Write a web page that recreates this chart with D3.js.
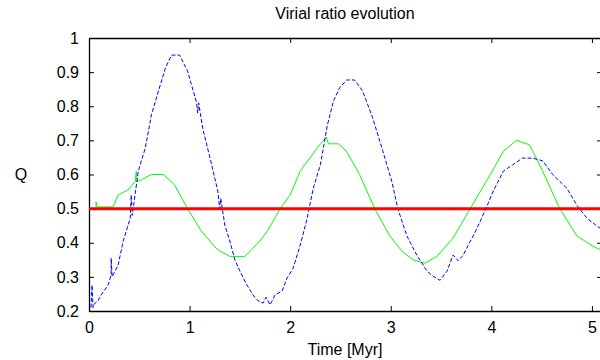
<!DOCTYPE html>
<html>
<head>
<meta charset="utf-8">
<script src="https://cdn.jsdelivr.net/npm/d3@7"></script>
<style>
  body { margin: 0; background: #fff; }
  text { font-family: "Liberation Sans", Arial, sans-serif; }
</style>
</head>
<body>
<div id="chart"></div>
<script>
// virial ratio Q over time
const greenTime = [0.07, 0.07, 0.08, 0.11, 0.24, 0.29, 0.39, 0.46, 0.47, 0.48, 0.52, 0.62, 0.74, 0.85, 0.98, 1.11, 1.26, 1.30, 1.40, 1.55, 1.70, 1.78, 1.90, 2.00, 2.10, 2.27, 2.36, 2.38, 2.48, 2.56, 2.69, 2.84, 2.99, 3.11, 3.22, 3.34, 3.46, 3.62, 3.79, 3.99, 4.12, 4.25, 4.38, 4.51, 4.68, 4.85, 5.01, 5.08]
const greenQ = [0.505, 0.52, 0.505, 0.505, 0.505, 0.54, 0.555, 0.58, 0.61, 0.58, 0.584, 0.60, 0.60, 0.57, 0.50, 0.437, 0.385, 0.376, 0.36, 0.36, 0.405, 0.437, 0.50, 0.54, 0.61, 0.678, 0.71, 0.69, 0.69, 0.668, 0.60, 0.50, 0.42, 0.376, 0.35, 0.34, 0.36, 0.414, 0.50, 0.60, 0.668, 0.70, 0.687, 0.61, 0.50, 0.42, 0.39, 0.38]

const blueTime = [0.02, 0.03, 0.04, 0.05, 0.09, 0.12, 0.19, 0.22, 0.22, 0.23, 0.29, 0.34, 0.41, 0.42, 0.43, 0.49, 0.56, 0.62, 0.66, 0.76, 0.82, 0.90, 0.98, 1.07, 1.08, 1.09, 1.13, 1.21, 1.28, 1.30, 1.31, 1.35, 1.40, 1.45, 1.50, 1.57, 1.63, 1.68, 1.73, 1.76, 1.80, 1.85, 1.92, 1.97, 2.03, 2.10, 2.17, 2.23, 2.30, 2.37, 2.43, 2.49, 2.56, 2.64, 2.72, 2.82, 2.92, 3.01, 3.07, 3.16, 3.26, 3.36, 3.42, 3.49, 3.56, 3.62, 3.67, 3.72, 3.77, 3.82, 3.89, 3.96, 4.02, 4.12, 4.21, 4.31, 4.41, 4.51, 4.61, 4.75, 4.85, 4.95, 5.05, 5.08]
const blueQ = [0.21, 0.276, 0.21, 0.22, 0.23, 0.247, 0.276, 0.305, 0.355, 0.30, 0.335, 0.405, 0.472, 0.54, 0.48, 0.61, 0.678, 0.774, 0.815, 0.912, 0.95, 0.95, 0.903, 0.81, 0.78, 0.81, 0.736, 0.64, 0.552, 0.50, 0.53, 0.452, 0.405, 0.35, 0.317, 0.276, 0.247, 0.23, 0.223, 0.24, 0.218, 0.247, 0.259, 0.297, 0.326, 0.393, 0.473, 0.56, 0.628, 0.745, 0.815, 0.853, 0.877, 0.877, 0.845, 0.766, 0.67, 0.58, 0.50, 0.42, 0.363, 0.317, 0.302, 0.29, 0.317, 0.364, 0.347, 0.364, 0.393, 0.42, 0.463, 0.51, 0.552, 0.61, 0.628, 0.648, 0.648, 0.64, 0.60, 0.56, 0.51, 0.472, 0.449, 0.443]

const equilibriumQ = 0.5
const xTicks = [0, 1, 2, 3, 4, 5]
const yTicks = [0.2, 0.3, 0.4, 0.5, 0.6, 0.7, 0.8, 0.9, 1]

const W = 600, H = 360
const LEFT = 89, RIGHT = 602, TOP = 38, BOTTOM = 311

const svg = d3.select('#chart').append('svg')
  .attr('width', W)
  .attr('height', H)

const x = d3.scaleLinear().domain([0, 5.1]).range([LEFT, RIGHT])
const y = d3.scaleLinear().domain([0.2, 1]).range([BOTTOM, TOP])

// frame with ticks on every side, pointing inward
const styleAxis = g => {
  g.select('.domain').attr('stroke', '#000').attr('stroke-width', 1.3)
  g.selectAll('.tick line').attr('stroke', '#000')
  g.selectAll('.tick text').attr('fill', '#000')
}

svg.append('g')
  .attr('transform', `translate(0, ${BOTTOM})`)
  .call(d3.axisBottom(x).tickValues(xTicks).tickFormat(d3.format('d'))
    .tickSizeInner(-5).tickSizeOuter(0).tickPadding(11))
  .attr('font-size', 16)
  .attr('font-family', null)
  .call(styleAxis)

svg.append('g')
  .attr('transform', `translate(0, ${TOP})`)
  .call(d3.axisTop(x).tickValues(xTicks).tickFormat('')
    .tickSizeInner(-5).tickSizeOuter(0))
  .call(styleAxis)

svg.append('g')
  .attr('transform', `translate(${LEFT}, 0)`)
  .call(d3.axisLeft(y).tickValues(yTicks).tickFormat(d3.format('~g'))
    .tickSizeInner(-5).tickSizeOuter(0).tickPadding(10))
  .attr('font-size', 16)
  .attr('font-family', null)
  .call(styleAxis)

svg.append('g')
  .attr('transform', `translate(${RIGHT}, 0)`)
  .call(d3.axisRight(y).tickValues(yTicks).tickFormat('')
    .tickSizeInner(-5).tickSizeOuter(0))
  .call(styleAxis)

// curves
svg.append('clipPath').attr('id', 'plot')
  .append('rect')
  .attr('x', LEFT).attr('y', TOP)
  .attr('width', RIGHT - LEFT).attr('height', BOTTOM - TOP)

const line = d3.line()
  .x(d => x(d[0]))
  .y(d => y(d[1]))

const plot = svg.append('g').attr('clip-path', 'url(#plot)')

plot.append('path')
  .datum(greenTime.map((t, i) => [t, greenQ[i]]))
  .attr('d', line)
  .attr('fill', 'none')
  .attr('stroke', '#00ff00')
  .attr('stroke-width', 1)

plot.append('path')
  .datum(blueTime.map((t, i) => [t, blueQ[i]]))
  .attr('d', line)
  .attr('fill', 'none')
  .attr('stroke', '#0000ff')
  .attr('stroke-width', 1)
  .attr('stroke-dasharray', '4,2')

plot.append('line')
  .attr('x1', x(0)).attr('x2', x(5.1))
  .attr('y1', y(equilibriumQ)).attr('y2', y(equilibriumQ))
  .attr('stroke', '#ff0000')
  .attr('stroke-width', 3)

// labels
svg.append('text')
  .attr('x', 345).attr('y', 19)
  .attr('text-anchor', 'middle')
  .attr('font-size', 16)
  .text('Virial ratio evolution')

svg.append('text')
  .attr('x', 345).attr('y', 355)
  .attr('text-anchor', 'middle')
  .attr('font-size', 16)
  .text('Time [Myr]')

svg.append('text')
  .attr('x', 21).attr('y', 180)
  .attr('text-anchor', 'middle')
  .attr('font-size', 16)
  .text('Q')
</script>
</body>
</html>
